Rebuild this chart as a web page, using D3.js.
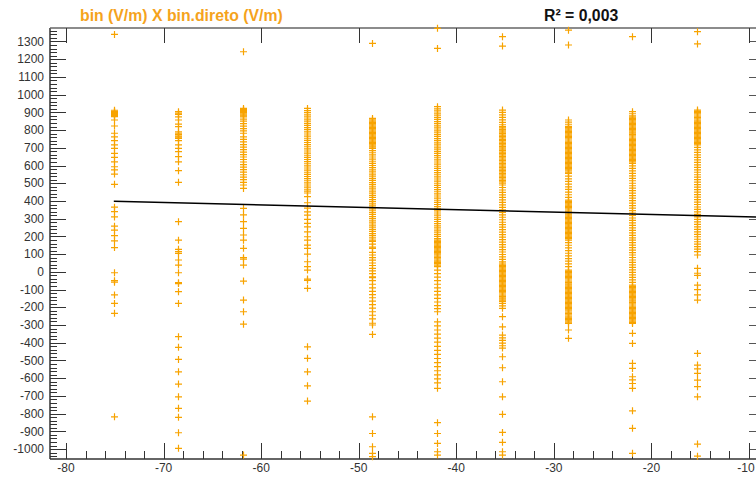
<!DOCTYPE html>
<html><head><meta charset="utf-8">
<script src="https://cdn.jsdelivr.net/npm/d3@7/dist/d3.min.js"></script>
<style>
html,body{margin:0;padding:0;background:#fff;}
svg{display:block;font-family:"Liberation Sans",Arial,sans-serif;}
</style></head>
<body>
<svg id="chart" width="756" height="477"></svg>
<script>
// ---- data ----
const titleText = "bin (V/m) X bin.direto (V/m)";
const r2Text = "R² = 0,003";
const colX = [-75.1, -68.5, -61.9, -55.3, -48.6, -42.0, -35.3, -28.6, -22.0, -15.3];
const col1 = [1340, 912, 906, 900, 894, 888, 882, 876, 857, 823, 782, 762, 740, 716, 697, 669, 646, 621, 593, 575, 552, 494, 365, 340, 310, 258, 235, 205, 175, 137, -5, -50, -58, -130, -178, -234, -818];
const col2 = [904, 896, 889, 875, 857, 834, 819, 790, 782, 774, 766, 760, 753, 740, 716, 697, 678, 650, 621, 571, 505, 283, 179, 127, 114, 104, 67, 38, -5, -61, -66, -112, -178, -366, -426, -494, -564, -633, -705, -770, -821, -908, -996];
const col3 = [1242, 922, 916, 910, 904, 898, 892, 886, 880, 875, 862, 850, 836, 822, 808, 795, 782, 762, 748, 733, 718, 704, 690, 676, 662, 648, 634, 620, 605, 591, 577, 563, 548, 534, 520, 505, 490, 471, 358, 321, 283, 245, 208, 179, 133, 80, 72, 38, -52, -159, -225, -295, -1034];
const col4 = [922, 910, 898, 886, 874, 862, 850, 838, 826, 814, 802, 790, 778, 766, 754, 742, 730, 718, 706, 694, 682, 670, 658, 646, 634, 622, 610, 598, 586, 574, 562, 550, 538, 526, 514, 502, 490, 478, 466, 455, 445, 424, 390, 360, 339, 320, 296, 274, 254, 226, 198, 179, 151, 133, 100, 57, 30, 10, -41, -48, -93, -423, -488, -564, -643, -729];
const col5 = [1289, 866, 858, 850, 843, 836, 829, 822, 815, 808, 801, 794, 787, 780, 773, 766, 759, 752, 745, 738, 731, 724, 717, 710, 703, 696, 684, 672, 660, 648, 636, 624, 612, 600, 588, 576, 564, 552, 540, 528, 516, 504, 492, 480, 468, 456, 444, 432, 420, 408, 396, 384, 372, 360, 348, 336, 324, 312, 300, 288, 276, 264, 252, 240, 228, 216, 204, 192, 179, 172, 157, 140, 133, 110, 95, 80, 66, 50, 36, 20, 6, -10, -28, -32, -50, -70, -90, -110, -128, -146, -165, -185, -205, -225, -245, -265, -290, -300, -353, -818, -912, -987, -1024, -1043];
const col6 = [1374, 1261, 932, 920, 908, 896, 884, 872, 860, 848, 836, 824, 812, 800, 788, 776, 764, 752, 740, 728, 716, 704, 692, 680, 668, 656, 644, 632, 620, 608, 596, 584, 572, 560, 548, 536, 524, 512, 500, 488, 476, 464, 452, 440, 428, 416, 404, 392, 380, 368, 356, 344, 332, 320, 308, 296, 284, 272, 260, 248, 236, 224, 212, 200, 188, 179, 172, 165, 158, 151, 144, 137, 130, 123, 116, 109, 102, 95, 88, 81, 74, 67, 60, 53, 46, 38, 29, 10, -10, -30, -50, -70, -90, -110, -130, -150, -170, -190, -208, -225, -282, -305, -328, -351, -374, -397, -420, -443, -466, -489, -512, -535, -558, -581, -604, -627, -657, -851, -912, -968, -1015, -1034];
const col7 = [1327, 1274, 913, 900, 886, 872, 858, 844, 830, 820, 812, 804, 796, 788, 780, 772, 764, 756, 748, 740, 732, 724, 716, 708, 700, 692, 684, 676, 668, 660, 652, 644, 636, 628, 620, 612, 604, 596, 588, 580, 572, 564, 556, 548, 540, 532, 524, 516, 508, 500, 490, 476, 462, 448, 434, 420, 406, 392, 378, 364, 350, 336, 322, 308, 294, 280, 266, 252, 238, 224, 210, 196, 182, 168, 154, 140, 126, 112, 98, 84, 70, 57, 50, 43, 36, 29, 22, 15, 8, 1, -6, -13, -20, -27, -34, -41, -48, -55, -62, -69, -76, -83, -90, -97, -104, -111, -118, -125, -132, -139, -146, -153, -160, -167, -178, -192, -206, -253, -310, -357, -372, -387, -402, -417, -430, -479, -541, -620, -705, -804, -906, -962, -1015, -1034];
const col8 = [1364, 1280, 857, 845, 833, 821, 814, 807, 800, 793, 786, 779, 772, 765, 758, 751, 744, 737, 730, 723, 716, 709, 702, 695, 688, 681, 674, 667, 660, 653, 646, 639, 632, 625, 618, 611, 604, 597, 590, 583, 576, 569, 562, 556, 540, 525, 510, 495, 480, 465, 450, 435, 420, 405, 398, 391, 384, 377, 370, 363, 356, 349, 342, 335, 328, 321, 314, 307, 300, 293, 286, 279, 272, 265, 258, 251, 244, 237, 230, 223, 216, 209, 202, 195, 188, 179, 165, 150, 135, 120, 105, 90, 75, 60, 45, 30, 10, 3, -4, -11, -18, -25, -32, -39, -46, -53, -60, -67, -74, -81, -88, -95, -102, -109, -116, -123, -130, -137, -144, -151, -158, -165, -172, -179, -186, -193, -200, -207, -214, -221, -228, -235, -242, -249, -256, -263, -270, -277, -284, -291, -328, -375];
const col9 = [1327, 904, 892, 880, 873, 866, 859, 852, 845, 838, 831, 824, 817, 810, 803, 796, 789, 782, 775, 768, 761, 754, 747, 740, 733, 726, 719, 712, 705, 698, 691, 684, 677, 670, 663, 656, 649, 642, 635, 628, 621, 612, 598, 584, 570, 556, 542, 528, 514, 500, 486, 472, 458, 444, 430, 416, 402, 388, 374, 360, 346, 332, 318, 304, 290, 276, 262, 248, 234, 220, 206, 192, 179, 165, 151, 137, 123, 109, 95, 81, 67, 53, 39, 25, 11, -3, -17, -31, -45, -59, -75, -82, -89, -96, -103, -110, -117, -124, -131, -138, -145, -152, -159, -166, -173, -180, -187, -194, -201, -208, -215, -222, -229, -236, -243, -250, -257, -264, -271, -278, -285, -291, -347, -404, -516, -545, -592, -610, -630, -657, -784, -883, -1024];
const col10 = [1355, 1286, 913, 906, 899, 892, 885, 878, 871, 864, 857, 850, 843, 836, 829, 822, 815, 808, 801, 794, 787, 780, 773, 766, 759, 752, 745, 738, 731, 724, 716, 702, 688, 674, 660, 646, 632, 618, 604, 590, 576, 562, 548, 534, 520, 506, 492, 478, 464, 450, 436, 422, 408, 394, 380, 366, 352, 338, 324, 310, 296, 282, 268, 254, 240, 226, 212, 198, 184, 170, 156, 142, 128, 114, 95, 20, -8, -20, -75, -100, -130, -159, -460, -526, -548, -573, -611, -648, -705, -972, -1040];
const columns = [col1, col2, col3, col4, col5, col6, col7, col8, col9, col10];
const fitX = [-75.1, -9.2];
const fitY = [398, 310];
const xTicks = [-80, -70, -60, -50, -40, -30, -20, -10];
const yTicks = [1300, 1200, 1100, 1000, 900, 800, 700, 600, 500, 400, 300, 200, 100, 0, -100, -200, -300, -400, -500, -600, -700, -800, -900, -1000];

// ---- layout ----
const svg = d3.select("#chart");
const L = 50, R = 749, T = 28, B = 459;
const x = d3.scaleLinear().domain([-81.64, -10]).range([L, R]);
const y = d3.scaleLinear().domain([-1056, 1376]).range([B, T]);
const orange = "#F7A300";
const axisCol = "#333";

// title
svg.append("text").attr("x", 80).attr("y", 21).attr("fill", "#F5A31C")
  .attr("font-size", 15.8).attr("font-weight", "bold").text(titleText);
svg.append("text").attr("x", 544).attr("y", 21).attr("fill", "#111")
  .attr("font-size", 15.8).attr("font-weight", "bold").text(r2Text);

// minor tick arrays
const yMinor = d3.range(-1040, 1376, 20).filter(v => v % 100 !== 0);
const xMinor = d3.range(-80, -10, 2).filter(v => v % 10 !== 0);

// left axis: ticks inside
const left = svg.append("g").attr("transform", `translate(${L},0)`);
left.append("line").attr("x1", 0).attr("x2", 0).attr("y1", T).attr("y2", B)
  .attr("stroke", axisCol).attr("stroke-width", 1.5);
left.selectAll("line.mn").data(yMinor).join("line").attr("class", "mn")
  .attr("x1", 0).attr("x2", 7).attr("y1", d => Math.round(y(d)) + 0.5).attr("y2", d => Math.round(y(d)) + 0.5)
  .attr("stroke", axisCol).attr("stroke-width", 1);
left.selectAll("line.mj").data(yTicks).join("line").attr("class", "mj")
  .attr("x1", 0).attr("x2", 16).attr("y1", d => Math.round(y(d)) + 0.5).attr("y2", d => Math.round(y(d)) + 0.5)
  .attr("stroke", axisCol).attr("stroke-width", 1);
left.selectAll("text").data(yTicks).join("text")
  .attr("x", -6).attr("y", d => y(d)).attr("dy", "0.35em").attr("text-anchor", "end")
  .attr("font-size", 12).attr("fill", "#333").text(d => d);

// right ticks (outside)
svg.append("g").selectAll("line").data(yTicks).join("line")
  .attr("x1", R).attr("x2", 756).attr("y1", d => Math.round(y(d)) + 0.5).attr("y2", d => Math.round(y(d)) + 0.5)
  .attr("stroke", "#555").attr("stroke-width", 1);

// top border with downward ticks
svg.append("line").attr("x1", L).attr("x2", 756).attr("y1", T).attr("y2", T)
  .attr("stroke", "#666").attr("stroke-width", 1.5);
svg.append("g").selectAll("line").data(xTicks).join("line")
  .attr("x1", d => Math.round(x(d)) + 0.5).attr("x2", d => Math.round(x(d)) + 0.5)
  .attr("y1", T).attr("y2", T + 15).attr("stroke", axisCol).attr("stroke-width", 1);

// bottom axis
const bottom = svg.append("g");
bottom.append("line").attr("x1", L).attr("x2", 756).attr("y1", B).attr("y2", B)
  .attr("stroke", axisCol).attr("stroke-width", 1.5);
bottom.selectAll("line.mn").data(xMinor).join("line").attr("class", "mn")
  .attr("x1", d => Math.round(x(d)) + 0.5).attr("x2", d => Math.round(x(d)) + 0.5)
  .attr("y1", B).attr("y2", B - 8).attr("stroke", axisCol).attr("stroke-width", 1);
bottom.selectAll("line.mj").data(xTicks).join("line").attr("class", "mj")
  .attr("x1", d => Math.round(x(d)) + 0.5).attr("x2", d => Math.round(x(d)) + 0.5)
  .attr("y1", B).attr("y2", B - 16).attr("stroke", axisCol).attr("stroke-width", 1);
bottom.selectAll("text").data(xTicks).join("text")
  .attr("x", d => Math.min(x(d), 746)).attr("y", 472).attr("text-anchor", "middle")
  .attr("font-size", 12).attr("fill", "#333").text(d => d);

// points
const pts = [];
columns.forEach((vals, i) => vals.forEach(v => pts.push([colX[i], v])));
svg.append("g").selectAll("path").data(pts).join("path")
  .attr("transform", d => `translate(${Math.round(x(d[0])) + 0.5},${y(d[1])})`)
  .attr("d", "M-3.5,0H3.5M0,-3.5V3.5")
  .attr("stroke", orange).attr("stroke-width", 1.2).attr("fill", "none");

// regression line
svg.append("path").datum(fitX.map((v, i) => [v, fitY[i]]))
  .attr("d", d3.line().x(d => x(d[0])).y(d => y(d[1])))
  .attr("stroke", "#000").attr("stroke-width", 1.5).attr("fill", "none");
</script>
</body></html>
